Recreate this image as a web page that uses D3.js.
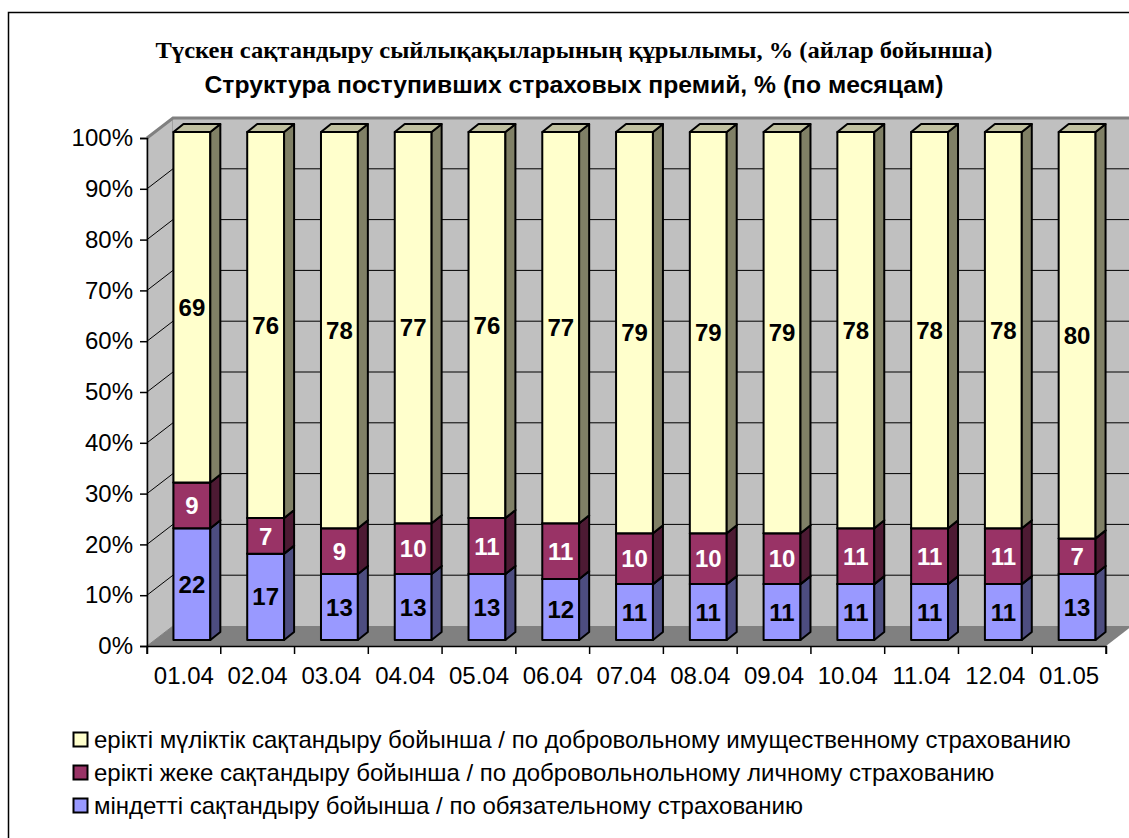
<!DOCTYPE html>
<html>
<head>
<meta charset="utf-8">
<script src="https://cdn.jsdelivr.net/npm/d3@7"></script>
<style>
  body { margin: 0; background: #fff; }
  svg { display: block; }
  text { font-family: "Liberation Sans", Arial, sans-serif; }
</style>
</head>
<body>
<script>
// data
var months = ["01.04","02.04","03.04","04.04","05.04","06.04","07.04","08.04","09.04","10.04","11.04","12.04","01.05"];
var compulsory = [22,17,13,13,13,12,11,11,11,11,11,11,13];
var personal   = [9,7,9,10,11,11,10,10,10,11,11,11,7];
var property   = [69,76,78,77,76,77,79,79,79,78,78,78,80];
var yTicks = [0,10,20,30,40,50,60,70,80,90,100];
var seriesNames = [
  "ерікті мүліктік сақтандыру бойынша / по добровольному имущественному страхованию",
  "ерікті жеке сақтандыру бойынша / по добровольнольному личному страхованию",
  "міндетті сақтандыру бойынша / по обязательному страхованию"
];

var W = 1129, H = 838;
var svg = d3.select("body").append("svg").attr("width", W).attr("height", H);

// outer chart border (right and bottom are cut off in the picture)
svg.append("rect").attr("x", 8.5).attr("y", 12.5).attr("width", W + 20).attr("height", H + 20)
  .attr("fill", "#fff").attr("stroke", "#000").attr("stroke-width", 1.5);

// titles
svg.append("text").attr("x", 574).attr("y", 58).attr("text-anchor", "middle")
  .attr("textLength", 837).attr("lengthAdjust", "spacingAndGlyphs")
  .style("font-family", "'Liberation Serif','Times New Roman',serif").style("font-weight", "bold").style("font-size", "23px")
  .text("Түскен сақтандыру сыйлықақыларының құрылымы, % (айлар бойынша)");
svg.append("text").attr("x", 574).attr("y", 93).attr("text-anchor", "middle")
  .attr("textLength", 739).attr("lengthAdjust", "spacingAndGlyphs")
  .style("font-weight", "bold").style("font-size", "23px")
  .text("Структура поступивших страховых премий, % (по месяцам)");

var x = d3.scaleBand().domain(months).range([147, 1106]).paddingInner(0).paddingOuter(0);
var y = d3.scaleLinear().domain([0, 100]).range([646, 138]);
var DX = 26, DY = -20;        // depth of the walls
var FX = 8, FY = -6;          // bar front plane offset
var BX = 10, BY = -8;         // bar depth
var bw = x.bandwidth() * 0.5;

var x0 = x.range()[0], x1 = x.range()[1];

// left wall
svg.append("polygon")
  .attr("points", [[x0, y(0)], [x0, y(100)], [x0 + DX, y(100) + DY], [x0 + DX, y(0) + DY]].join(" "))
  .attr("fill", "#c0c0c0").attr("stroke", "#808080").attr("stroke-width", 1);
// back wall
svg.append("polygon")
  .attr("points", [[x0 + DX, y(0) + DY], [x0 + DX, y(100) + DY], [x1 + DX, y(100) + DY], [x1 + DX, y(0) + DY]].join(" "))
  .attr("fill", "#c0c0c0").attr("stroke", "none");
// floor
svg.append("polygon")
  .attr("points", [[x0, y(0)], [x1, y(0)], [x1 + DX, y(0) + DY], [x0 + DX, y(0) + DY]].join(" "))
  .attr("fill", "#808080").attr("stroke", "none");
// top edge of walls
svg.append("polyline")
  .attr("points", [[x0, y(100)], [x0 + DX, y(100) + DY], [x1 + DX, y(100) + DY]].join(" "))
  .attr("fill", "none").attr("stroke", "#808080").attr("stroke-width", 3);

// gridlines on walls
var grid = svg.append("g").attr("stroke", "#000").attr("stroke-width", 1).attr("fill", "none");
yTicks.filter(function (d) { return d > 0 && d < 100; }).forEach(function (t) {
  grid.append("polyline")
    .attr("points", [[x0, y(t)], [x0 + DX, y(t) + DY], [x1 + DX, y(t) + DY]].join(" "));
});

// bars
var layers = [
  { vals: compulsory, front: "#9999ff", side: "#4d4d80", top: "#7a7acc", label: "#000" },
  { vals: personal,   front: "#993366", side: "#4d1a33", top: "#7a2952", label: "#fff" },
  { vals: property,   front: "#ffffcc", side: "#808066", top: "#c0c0a0", label: "#000" }
];

var barsG = svg.append("g");
months.forEach(function (m, i) {
  var bx = x(m) + (x.bandwidth() - bw) / 2 + FX;
  var base = 0;
  var g = barsG.append("g");
  layers.forEach(function (L) {
    var v = L.vals[i];
    var yb = y(base) + FY, yt = y(base + v) + FY;
    g.append("polygon")
      .attr("points", [[bx, yb], [bx + bw, yb], [bx + bw, yt], [bx, yt]].join(" "))
      .attr("fill", L.front).attr("stroke", "#000").attr("stroke-width", 2).attr("stroke-linejoin", "round");
    g.append("polygon")
      .attr("points", [[bx + bw, yb], [bx + bw + BX, yb + BY], [bx + bw + BX, yt + BY], [bx + bw, yt]].join(" "))
      .attr("fill", L.side).attr("stroke", "#000").attr("stroke-width", 2).attr("stroke-linejoin", "round");
    g.append("polygon")
      .attr("points", [[bx, yt], [bx + bw, yt], [bx + bw + BX, yt + BY], [bx + BX, yt + BY]].join(" "))
      .attr("fill", L.top).attr("stroke", "#000").attr("stroke-width", 2).attr("stroke-linejoin", "round");
    base += v;
  });
  // labels on top of all faces
  base = 0;
  layers.forEach(function (L) {
    var v = L.vals[i];
    var cy = (y(base) + y(base + v)) / 2 + FY;
    g.append("text").attr("x", bx + bw / 2).attr("y", cy).attr("dy", "0.36em")
      .attr("text-anchor", "middle").attr("fill", L.label)
      .style("font-weight", "bold").style("font-size", "24px").text(v);
    base += v;
  });
});

// axes
var yAxis = d3.axisLeft(y).tickValues(yTicks).tickSize(7).tickPadding(7)
  .tickFormat(function (d) { return d + "%"; });
var gy = svg.append("g").attr("transform", "translate(" + x0 + ",0)").call(yAxis);
gy.select(".domain").attr("stroke", "#000").attr("stroke-width", 1.5);
gy.selectAll(".tick line").attr("stroke", "#000").attr("stroke-width", 1.5);
gy.selectAll("text").style("font-size", "24px").attr("fill", "#000")
  .style("font-family", "'Liberation Sans', Arial, sans-serif");

var xAxis = d3.axisBottom(x).tickSize(8).tickPadding(13);
var gx = svg.append("g").attr("transform", "translate(0," + y(0) + ")").call(xAxis);
gx.select(".domain").attr("stroke", "#000").attr("stroke-width", 1.5);
gx.selectAll(".tick line").attr("stroke", "#000").attr("stroke-width", 1.5)
  .attr("x1", -x.bandwidth() / 2).attr("x2", -x.bandwidth() / 2);
gx.selectAll("text").style("font-size", "24px").attr("fill", "#000")
  .style("font-family", "'Liberation Sans', Arial, sans-serif");
// last tick at right end
gx.append("line").attr("x1", x1).attr("x2", x1).attr("y1", 0).attr("y2", 8)
  .attr("stroke", "#000").attr("stroke-width", 1.5);

// legend
var legendColors = [layers[2].front, layers[1].front, layers[0].front];
var lg = svg.append("g");
seriesNames.forEach(function (name, i) {
  var ly = 739.5 + i * 33;
  lg.append("rect").attr("x", 73.5).attr("y", ly - 7).attr("width", 14).attr("height", 14)
    .attr("fill", legendColors[i]).attr("stroke", "#000").attr("stroke-width", 2);
  lg.append("text").attr("x", 94).attr("y", ly).attr("dy", "0.36em")
    .style("font-size", "24px").attr("fill", "#000").text(name);
});
</script>
</body>
</html>
